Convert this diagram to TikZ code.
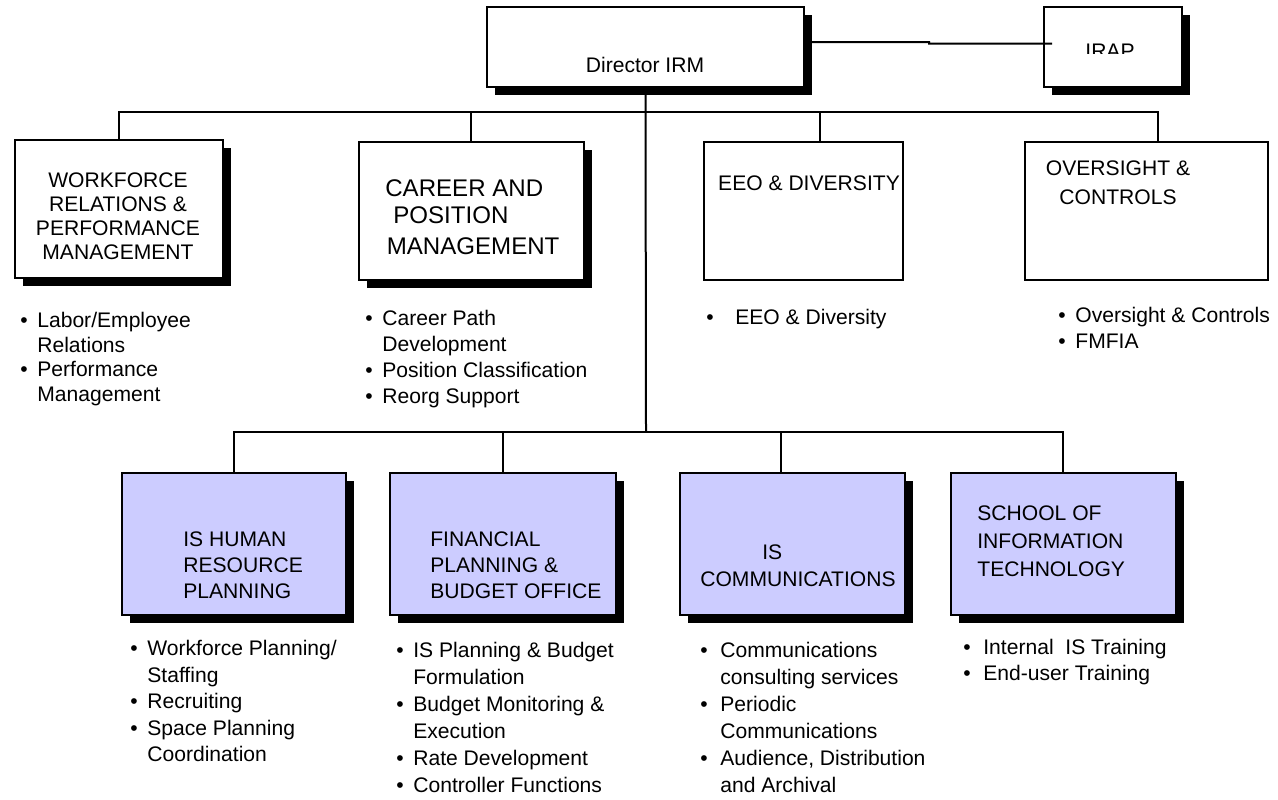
\documentclass[tikz,border=0pt]{standalone}
\usepackage{fontspec}
\setmainfont{Liberation Sans}
\usetikzlibrary{positioning, shadows}
\definecolor{planblue}{HTML}{CCCCFF}
\newcommand{\orgitem}[2][3.4mm]{\makebox[#1][l]{\textbullet}#2}
\newcommand{\orgcont}[2][3.4mm]{\hspace*{#1}#2}

\begin{document}
\begin{tikzpicture}[
    x=0.2mm, y=-0.2mm,
    orgunit/.style={draw=black, line width=0.4mm, fill=white, inner sep=0pt},
    dropped/.style={drop shadow={opacity=1, fill=black, shadow xshift=1.6mm, shadow yshift=-1.6mm}},
    title/.style={inner sep=0pt, font=\fontsize{12}{13.7}\selectfont},
    duties/.style={anchor=north west, inner sep=0pt, align=left, font=\fontsize{12}{14.8}\selectfont},
    conn/.style={line width=0.4mm}
]
\useasboundingbox (0,0) rectangle (1278,799);

% head office
\node[orgunit, dropped, minimum width=63.4mm, minimum height=16mm] (dir) at (645.5,47) {};
\node[title] (dir-t) at (645,65) {Director IRM};
\node[orgunit, dropped, minimum width=27.6mm, minimum height=16mm] (irap) at (1113,47) {};
\begin{scope}
  \clip (1044,7) rectangle (1182,53);
  \node[title] (irap-t) at (1110,51) {IRAP};
\end{scope}
\coordinate (irap-in) at (1052,43.5);

% staff offices
\node[orgunit, dropped, minimum width=41.6mm, minimum height=27.6mm] (wf) at (119,209) {};
\node[orgunit, dropped, minimum width=45mm, minimum height=27.6mm] (car) at (471,211) {};
\node[orgunit, minimum width=39.8mm, minimum height=27.6mm] (eeo) at (803.5,211) {};
\node[orgunit, minimum width=48.6mm, minimum height=27.6mm] (ovs) at (1146.5,211) {};

\node[title, align=center] (wf-t) at (118,216.5) {WORKFORCE\\RELATIONS \&\\PERFORMANCE\\MANAGEMENT};
\node[title, anchor=north west, align=left, font=\fontsize{13.7}{15.4}\selectfont] (car-t) at (385,179)
    {CAREER AND\\\hspace*{1.6mm}POSITION\\[2.5pt]\hspace*{0.3mm}MANAGEMENT};
\node[title] (eeo-t) at (809,183) {EEO \& DIVERSITY};
\node[title, align=center, font=\fontsize{12}{16.5}\selectfont] (ovs-t) at (1118,183) {OVERSIGHT \&\\CONTROLS};

\node[duties, font=\fontsize{12}{14}\selectfont] (wf-l) at (20,312)
    {\orgitem{Labor/Employee}\\\orgcont{Relations}\\\orgitem{Performance}\\\orgcont{Management}};
\node[duties] (car-l) at (365,310)
    {\orgitem{Career Path}\\\orgcont{Development}\\\orgitem{Position Classification}\\\orgitem{Reorg Support}};
\node[duties] (eeo-l) at (706,309) {\orgitem[5.8mm]{EEO \& Diversity}};
\node[duties] (ovs-l) at (1058,307) {\orgitem{Oversight \& Controls}\\\orgitem{FMFIA}};

% IS offices
\node[orgunit, dropped, fill=planblue, minimum width=44.8mm, minimum height=28.4mm] (ishr) at (234,544) {};
\node[orgunit, dropped, fill=planblue, minimum width=45.2mm, minimum height=28.4mm] (fin) at (503,544) {};
\node[orgunit, dropped, fill=planblue, minimum width=45mm, minimum height=28.4mm] (com) at (792.5,544) {};
\node[orgunit, dropped, fill=planblue, minimum width=45mm, minimum height=28.4mm] (sit) at (1063,544) {};

\node[title, anchor=north west, align=left, font=\fontsize{12}{15}\selectfont] (ishr-t) at (183,531)
    {IS HUMAN\\RESOURCE\\PLANNING};
\node[title, anchor=north west, align=left, font=\fontsize{12}{15}\selectfont] (fin-t) at (430,531)
    {FINANCIAL\\PLANNING \&\\BUDGET OFFICE};
\node[title, anchor=north west, align=left, font=\fontsize{12}{15.4}\selectfont] (com-t) at (700,544)
    {\hspace*{12.4mm}IS\\COMMUNICATIONS};
\node[title, anchor=north west, align=left, font=\fontsize{12}{16}\selectfont] (sit-t) at (977,505)
    {SCHOOL OF\\INFORMATION\\TECHNOLOGY};

\node[duties, font=\fontsize{12}{15.1}\selectfont] (ishr-l) at (130,640)
    {\orgitem{Workforce Planning/}\\\orgcont{Staffing}\\\orgitem{Recruiting}\\\orgitem{Space Planning}\\\orgcont{Coordination}};
\node[duties, font=\fontsize{12}{15.4}\selectfont] (fin-l) at (396,642)
    {\orgitem{IS Planning \& Budget}\\\orgcont{Formulation}\\\orgitem{Budget Monitoring \&}\\\orgcont{Execution}\\\orgitem{Rate Development}\\\orgitem{Controller Functions}};
\node[duties, font=\fontsize{12}{15.4}\selectfont] (com-l) at (700,642)
    {\orgitem[4mm]{Communications}\\\orgcont[4mm]{consulting services}\\\orgitem[4mm]{Periodic}\\\orgcont[4mm]{Communications}\\\orgitem[4mm]{Audience, Distribution}\\\orgcont[4mm]{and Archival}};
\node[duties] (sit-l) at (963,639)
    {\orgitem[4mm]{Internal\ \ IS Training}\\\orgitem[4mm]{End-user Training}};

% reporting lines
\coordinate (bustop) at (646,112);
\coordinate (buslow) at (646,432);
\draw[conn] ([yshift=1mm]dir.east) -- ++(24.8mm,0) -- ++(0,-0.3mm) -- (irap-in);
\draw[conn] (dir.south) -- (buslow);
\draw[conn] ([xshift=2.3mm]ovs.north) |- (bustop) -| (wf.north);
\draw[conn] (car.north) -- (car.north |- bustop);
\draw[conn] ([xshift=3.3mm]eeo.north) -- ([xshift=3.3mm]eeo.north |- bustop);
\draw[conn] (ishr.north) |- (buslow) -| (sit.north);
\draw[conn] (fin.north) -- (fin.north |- buslow);
\draw[conn] ([xshift=-2.4mm]com.north) -- ([xshift=-2.4mm]com.north |- buslow);

\end{tikzpicture}
\end{document}
